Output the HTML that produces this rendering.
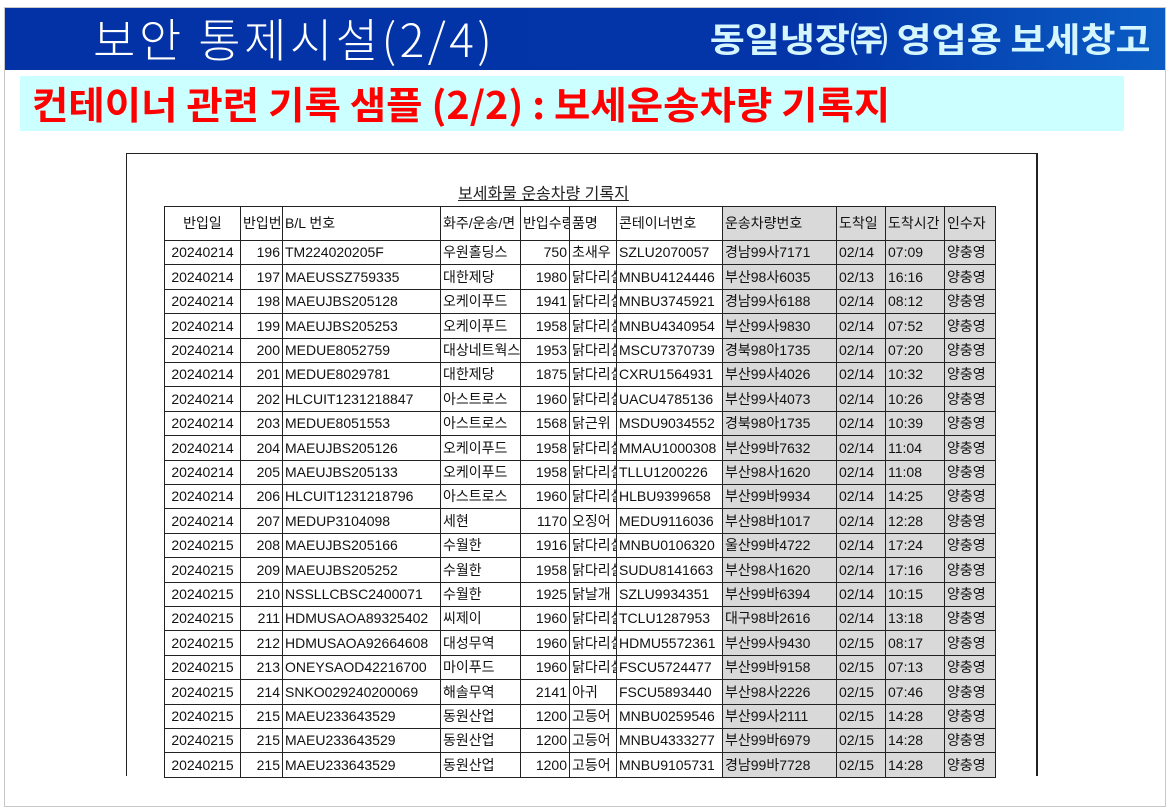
<!DOCTYPE html>
<html><head><meta charset="utf-8">
<style>
body{margin:0;width:1170px;height:811px;background:#fff;position:relative;overflow:hidden;font-family:"Liberation Sans","Noto Sans CJK KR",sans-serif}
#frame{position:absolute;left:4px;top:7px;width:1162px;height:800px;border:1px solid #c8c8c8;box-sizing:border-box}
#hdr{position:absolute;left:5px;top:8px;width:1160px;height:62px;background:linear-gradient(90deg,#0332a6 0%,#0335a8 70%,#0a5cc4 100%)}
#t1{position:absolute;left:88px;top:7px;font-size:46px;line-height:46px;color:#fff;font-family:"Noto Sans CJK KR",sans-serif;font-weight:300;letter-spacing:3.5px;white-space:nowrap}
#t2{position:absolute;right:14px;top:10px;font-size:34px;line-height:40px;color:#d6f6ff;font-weight:bold;font-family:"Noto Sans CJK KR",sans-serif;transform:scaleX(1.12);transform-origin:right;white-space:nowrap}
#sub{position:absolute;left:20px;top:76px;width:1104px;height:55px;background:#ccffff}
#subt{position:absolute;left:12px;top:6px;font-size:38px;line-height:42px;color:#ff0000;font-weight:bold;font-family:"Noto Sans CJK KR",sans-serif;transform:scaleX(1.04);transform-origin:left;white-space:nowrap}
#doc{position:absolute;left:126px;top:153px;width:912px;height:623px;border:1px solid #222;border-right:2px solid #222;border-bottom:none;box-sizing:border-box}
#doctitle{position:absolute;left:458px;top:180px;font-size:16px;text-decoration:underline;color:#222}
.c{position:absolute;box-sizing:border-box;border:1px solid #222;font-size:14px;white-space:nowrap;overflow:hidden;padding:0 2px;color:#111}
.g{background:#d9d9d9}
.r{text-align:right}
.ce{text-align:center}
</style></head><body>
<div id="frame"></div>
<div id="hdr">
<div id="t1">보안 통제시설(2/4)</div>
<div id="t2">동일냉장㈜ 영업용 보세창고</div>
</div>
<div id="sub"><div id="subt">컨테이너 관련 기록 샘플 (2/2) : 보세운송차량 기록지</div></div>
<div id="doc"></div>
<div id="doctitle">보세화물 운송차량 기록지</div>
<div id="tbl"></div>
<script>
const headers=["반입일","반입번","B/L 번호","화주/운송/면","반입수량","품명","콘테이너번호","운송차량번호","도착일","도착시간","인수자"];
const colX=[164,240,282,440,520,569,616,722,836,885,944,995];
const rows=[
["20240214","196","TM224020205F","우원홀딩스","750","초새우","SZLU2070057","경남99사7171","02/14","07:09","양충영"],
["20240214","197","MAEUSSZ759335","대한제당","1980","닭다리살","MNBU4124446","부산98사6035","02/13","16:16","양충영"],
["20240214","198","MAEUJBS205128","오케이푸드","1941","닭다리살","MNBU3745921","경남99사6188","02/14","08:12","양충영"],
["20240214","199","MAEUJBS205253","오케이푸드","1958","닭다리살","MNBU4340954","부산99사9830","02/14","07:52","양충영"],
["20240214","200","MEDUE8052759","대상네트웍스","1953","닭다리살","MSCU7370739","경북98아1735","02/14","07:20","양충영"],
["20240214","201","MEDUE8029781","대한제당","1875","닭다리살","CXRU1564931","부산99사4026","02/14","10:32","양충영"],
["20240214","202","HLCUIT1231218847","아스트로스","1960","닭다리살","UACU4785136","부산99사4073","02/14","10:26","양충영"],
["20240214","203","MEDUE8051553","아스트로스","1568","닭근위","MSDU9034552","경북98아1735","02/14","10:39","양충영"],
["20240214","204","MAEUJBS205126","오케이푸드","1958","닭다리살","MMAU1000308","부산99바7632","02/14","11:04","양충영"],
["20240214","205","MAEUJBS205133","오케이푸드","1958","닭다리살","TLLU1200226","부산98사1620","02/14","11:08","양충영"],
["20240214","206","HLCUIT1231218796","아스트로스","1960","닭다리살","HLBU9399658","부산99바9934","02/14","14:25","양충영"],
["20240214","207","MEDUP3104098","세현","1170","오징어","MEDU9116036","부산98바1017","02/14","12:28","양충영"],
["20240215","208","MAEUJBS205166","수월한","1916","닭다리살","MNBU0106320","울산99바4722","02/14","17:24","양충영"],
["20240215","209","MAEUJBS205252","수월한","1958","닭다리살","SUDU8141663","부산98사1620","02/14","17:16","양충영"],
["20240215","210","NSSLLCBSC2400071","수월한","1925","닭날개","SZLU9934351","부산99바6394","02/14","10:15","양충영"],
["20240215","211","HDMUSAOA89325402","씨제이","1960","닭다리살","TCLU1287953","대구98바2616","02/14","13:18","양충영"],
["20240215","212","HDMUSAOA92664608","대성무역","1960","닭다리살","HDMU5572361","부산99사9430","02/15","08:17","양충영"],
["20240215","213","ONEYSAOD42216700","마이푸드","1960","닭다리살","FSCU5724477","부산99바9158","02/15","07:13","양충영"],
["20240215","214","SNKO029240200069","해솔무역","2141","아귀","FSCU5893440","부산98사2226","02/15","07:46","양충영"],
["20240215","215","MAEU233643529","동원산업","1200","고등어","MNBU0259546","부산99사2111","02/15","14:28","양충영"],
["20240215","215","MAEU233643529","동원산업","1200","고등어","MNBU4333277","부산99바6979","02/15","14:28","양충영"],
["20240215","215","MAEU233643529","동원산업","1200","고등어","MNBU9105731","경남99바7728","02/15","14:28","양충영"]
];
const tbl=document.getElementById('tbl');
const top0=206, hH=34, rH=24.4;
function cell(txt,ci,y,h,isHead){
  const d=document.createElement('div');
  
  
  let cls='c';
  if(ci>=7) cls+=' g';
  if(!isHead && (ci==1||ci==4)) cls+=' r';
  if(ci==0) cls+=' ce';
  d.className=cls;
  d.style.left=colX[ci]+'px';
  d.style.top=y+'px';
  d.style.width=(colX[ci+1]-colX[ci]+1)+'px';
  d.style.height=(h+1)+'px';
  d.style.lineHeight=(h-1)+'px';
  d.textContent=txt;
  tbl.appendChild(d);
}
headers.forEach((h,i)=>cell(h,i,top0,hH,true));
rows.forEach((r,ri)=>{
  const y=Math.round(top0+hH+ri*rH);
  const y2=Math.round(top0+hH+(ri+1)*rH);
  r.forEach((v,ci)=>cell(v,ci,y,y2-y,false));
});
</script>
</body></html>
